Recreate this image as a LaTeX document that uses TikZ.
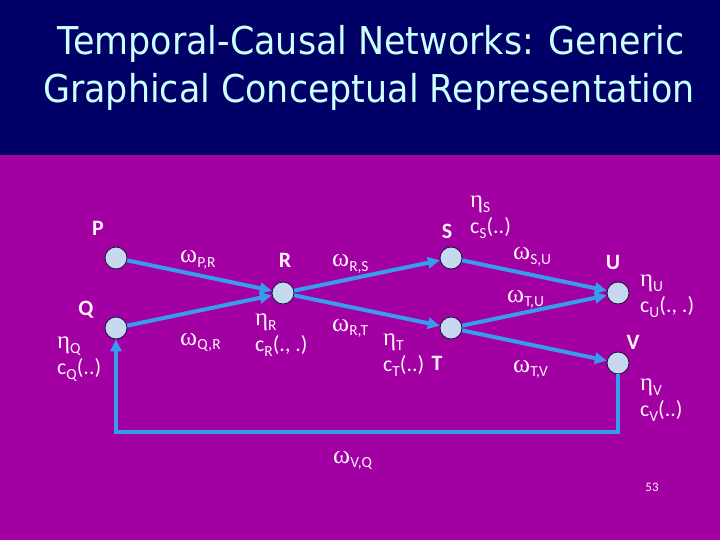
\documentclass[tikz,border=0pt]{standalone}
\usepackage{fontspec}
\setmainfont{Carlito}
\newfontfamily\titlefont[FakeStretch=0.91]{DejaVu Sans}
\newfontfamily\grkfont{Liberation Serif}
\usetikzlibrary{arrows.meta,positioning}
\definecolor{tcnNavy}{RGB}{0,0,102}
\definecolor{tcnPurple}{RGB}{162,0,162}
\definecolor{tcnTitle}{RGB}{204,255,255}
\definecolor{tcnBlue}{RGB}{56,156,238}
\definecolor{tcnNode}{RGB}{198,217,241}
\definecolor{tcnRim}{RGB}{20,20,60}
\definecolor{tcnText}{RGB}{255,242,255}
\newcommand{\sbs}[1]{\raisebox{-0.45ex}{\fontsize{15.5}{15.5}\selectfont #1}}
\newcommand{\wgt}[1]{{\grkfont\fontsize{26}{26}\selectfont ω}\sbs{#1}}
\newcommand{\spd}[1]{{\grkfont\fontsize{25}{25}\selectfont η}\sbs{#1}}
\newcommand{\cmb}[2]{c\sbs{#1}(#2)}

\begin{document}
\begin{tikzpicture}[x=1bp, y=-1bp, >=Triangle]
\tikzstyle{state}=[circle, draw=tcnRim, line width=0.8bp, fill=tcnNode, minimum size=22bp, inner sep=0pt]
\tikzstyle{flow}=[-{Triangle[length=12bp,width=11bp]}, line width=4bp, tcnBlue]
\tikzstyle{lbl}=[text=tcnText, inner sep=0pt, font=\fontsize{22}{26}\selectfont]
\tikzstyle{vtag}=[lbl, font=\fontsize{22}{26}\selectfont\bfseries]
\tikzstyle{wlbl}=[lbl, anchor=base west]
\tikzstyle{plbl}=[lbl, align=left, anchor=west]

\useasboundingbox (0,0) rectangle (720,540);
\fill[tcnPurple] (0,0) rectangle (720,540);
\fill[tcnNavy] (0,0) rectangle (720,155);

\node[text=tcnTitle, anchor=base, font=\titlefont\fontsize{38.5}{48}\selectfont] (title1) at (371,55) {Temporal-Causal Networks: Generic};
\node[text=tcnTitle, anchor=base, font=\titlefont\fontsize{38.5}{48}\selectfont] (title2) at (369,103) {Graphical Conceptual Representation};

\node[state] (P) at (116,258) {};
\node[state] (Q) at (116,328) {};
\node[state] (R) at (283,293) {};
\node[state] (S) at (451,258) {};
\node[state] (T) at (451,328) {};
\node[state] (U) at (618,293) {};
\node[state] (V) at (618,363) {};

\node[vtag] (nP) at (98,228) {P};
\node[vtag] (nQ) at (86,310) {Q};
\node[vtag] (nR) at (285,260) {R};
\node[vtag] (nS) at (447,231) {S};
\node[vtag] (nT) at (437,363) {T};
\node[vtag] (nU) at (613,262) {U};
\node[vtag] (nV) at (633,342) {V};

\node[wlbl] (wPR) at (180,263) {\wgt{P,R}};
\node[wlbl] (wQR) at (180,345) {\wgt{Q,R}};
\node[wlbl] (wRS) at (332,267) {\wgt{R,S}};
\node[wlbl] (wRT) at (332,331) {\wgt{R,T}};
\node[wlbl] (wSU) at (513,260) {\wgt{S,U}};
\node[wlbl] (wTU) at (507,302) {\wgt{T,U}};
\node[wlbl] (wTV) at (513,372) {\wgt{T,V}};
\node[wlbl] (wVQ) at (333,463) {\wgt{V,Q}};

\node[plbl] (pQ) at (57,359) {\spd{Q}\\\cmb{Q}{..}};
\node[plbl] (pR) at (255,335) {\spd{R}\\\cmb{R}{., .}};
\node[plbl] (pS) at (470,217) {\spd{S}\\\cmb{S}{..}};
\node[plbl] (pT) at (383,355) {\spd{T}\\\cmb{T}{..}};
\node[plbl] (pU) at (640,296) {\spd{U}\\\cmb{U}{., .}};
\node[plbl] (pV) at (640,400) {\spd{V}\\\cmb{V}{..}};

\node[lbl, font=\fontsize{13}{13}\selectfont] (pageno) at (652,487) {53};

\coordinate (turnQ) at (116,432);

\draw[flow] (P) -- (R);
\draw[flow] (Q) -- (R);
\draw[flow] (R) -- (S);
\draw[flow] (R) -- (T);
\draw[flow] (S) -- (U);
\draw[flow] (T) -- (U);
\draw[flow] (T) -- (V);
\draw[flow] (V) |- (turnQ) -- (Q);
\end{tikzpicture}
\end{document}
